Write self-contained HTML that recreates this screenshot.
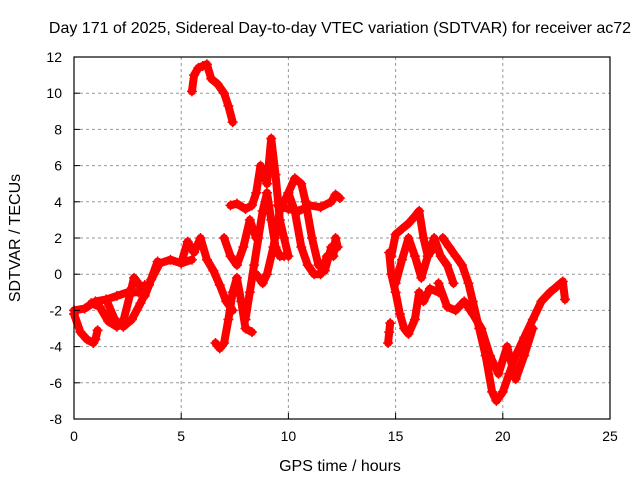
<!DOCTYPE html>
<html><head><meta charset="utf-8"><style>
body{margin:0;background:#fff}
svg text{font-family:"Liberation Sans",sans-serif;font-size:14px;fill:#000}
svg text.big{font-size:16px}
</style></head><body>
<svg id="chart" width="640" height="480" viewBox="0 0 640 480" xmlns="http://www.w3.org/2000/svg">
<rect width="640" height="480" fill="#fff"/>
<text class="big" x="340" y="33" text-anchor="middle">Day 171 of 2025, Sidereal Day-to-day VTEC variation (SDTVAR) for receiver ac72</text>
<g id="grid"></g>
<g id="series"></g>
<rect x="74" y="57" width="536" height="362" fill="none" stroke="#000" stroke-width="1.2"/>
<g id="ticks"></g>
<text class="big" x="340" y="471" text-anchor="middle">GPS time / hours</text>
<text class="big" transform="translate(20,238) rotate(-90)" text-anchor="middle">SDTVAR / TECUs</text>
</svg>
<script>
const xTicks=[0,5,10,15,20,25];
const yTicks=[-8,-6,-4,-2,0,2,4,6,8,10,12];
const h1=[0,0.3,0.6,0.9,1.0,1.1], v1=[-2.2,-3.2,-3.6,-3.8,-3.6,-3.1];
const h2=[0,0.5,1.0,1.5,2.0,2.5,3.0,3.3], v2=[-2.0,-1.9,-1.5,-1.4,-1.2,-1.0,-1.0,-0.6];
const h3=[0.8,1.2,1.6,2.0,2.3,2.6,2.8,3.0,3.3,3.6,4.0,4.5,5.0,5.5], v3=[-1.6,-1.8,-2.6,-2.9,-2.6,-1.2,-0.2,-0.5,-1.2,-0.3,0.6,0.8,0.6,0.8];
const h4=[1.5,1.9,2.3,2.7,3.1,3.5,3.9], v4=[-1.4,-2.5,-2.9,-2.5,-1.6,-0.6,0.7];
const h5=[5.5,5.6,5.8,6.0,6.2,6.4,6.7,7.0,7.2,7.4], v5=[10.1,11.0,11.4,11.5,11.6,10.8,10.5,10.0,9.3,8.4];
const h6=[5.0,5.3,5.6,5.9,6.2,6.5,6.8,7.1,7.4], v6=[0.6,1.8,1.2,2.0,0.8,0.2,-0.6,-1.5,-2.0];
const h7=[6.6,6.8,7.0,7.2,7.4,7.6,7.8,8.0,8.3], v7=[-3.8,-4.1,-3.8,-2.5,-1.0,-0.2,-1.5,-3.0,-3.2];
const h8=[7.3,7.6,8.0,8.3,8.5,8.7,9.0,9.2,9.4,9.6,9.8,10.0], v8=[3.8,3.9,3.6,3.8,4.5,6.0,5.0,7.5,5.5,3.0,2.0,1.0];
const h9=[8.0,8.2,8.4,8.6,8.8,9.0,9.2,9.4,9.6,9.8], v9=[-2.5,-1.0,0.5,2.0,3.5,4.5,3.0,1.5,1.0,1.0];
const h10=[8.5,8.8,9.0,9.3,9.6,10.0,10.3,10.6,10.9,11.2,11.5,11.8], v10=[0.0,-0.5,0.0,1.5,3.5,4.5,3.5,1.5,0.5,0.0,0.0,1.0];
const h11=[9.5,10.0,10.5,11.0,11.5,12.0,12.2,12.4], v11=[3.8,3.6,3.5,3.8,3.7,4.0,4.4,4.2];
const h12=[10.0,10.3,10.6,10.8,11.1,11.4,11.7,12.0], v12=[4.5,5.3,5.0,4.0,2.0,0.5,0.2,1.5];
const h13=[12.1,12.2,12.3], v13=[1.0,2.0,1.5];
const h14=[7.0,7.3,7.6,7.9,8.2,8.5], v14=[2.0,1.0,0.5,1.5,3.0,2.0];
const h15=[14.7,14.8,15.0,15.2,15.4,15.6,15.9,16.1,16.3,16.6,17.0], v15=[1.2,0.0,-1.0,-2.2,-3.0,-3.3,-2.5,-1.0,-1.5,-0.8,-1.0];
const h16=[14.8,15.0,15.3,15.6,15.9,16.1,16.3,16.5,16.8], v16=[1.0,2.2,2.5,2.8,3.2,3.5,2.0,1.0,1.5];
const h17=[15.0,15.3,15.6,15.9,16.2,16.5,16.8,17.1,17.4,17.7], v17=[-0.5,0.8,2.0,1.0,-0.2,1.0,2.0,1.0,0.5,-0.5];
const h18=[17.2,17.5,17.8,18.1,18.4,18.6,18.9,19.2,19.5,19.7,20.0,20.3,20.6,21.0,21.4,21.8,22.2,22.5,22.8,22.9], v18=[2.0,1.5,1.0,0.5,-0.5,-1.5,-3.0,-4.5,-6.5,-7.0,-6.5,-5.5,-4.5,-3.5,-2.5,-1.5,-1.0,-0.7,-0.4,-1.4];
const h19=[17.0,17.4,17.8,18.2,18.6,19.0,19.4,19.8,20.2,20.6,21.0,21.4], v19=[-0.5,-1.8,-2.0,-1.5,-2.2,-3.0,-4.5,-5.5,-4.0,-5.8,-4.5,-3.0];
const h20=[14.65,14.7,14.75], v20=[-3.8,-3.2,-2.7];
const seriesH=[h1,h2,h3,h4,h5,h6,h7,h8,h9,h10,h11,h12,h13,h14,h15,h16,h17,h18,h19,h20];
const seriesV=[v1,v2,v3,v4,v5,v6,v7,v8,v9,v10,v11,v12,v13,v14,v15,v16,v17,v18,v19,v20];

const X0=74,X1=610,Y0=419,Y1=57;
const sx=h=>X0+(h-0)/(25-0)*(X1-X0);
const sy=v=>Y0-(v+8)/(12+8)*(Y0-Y1);
const NS='http://www.w3.org/2000/svg';
const grid=document.getElementById('grid'),ticks=document.getElementById('ticks'),ser=document.getElementById('series');
function mk(tag,attrs,parent){const e=document.createElementNS(NS,tag);for(const k in attrs)e.setAttribute(k,attrs[k]);parent.appendChild(e);return e;}
xTicks.forEach(t=>{const x=sx(t);
 if(t>0&&t<25){const g=mk('line',{x1:x,x2:x,y1:Y1,y2:Y0,stroke:'#999','stroke-dasharray':'3,3'},grid);
 
 }
 const tk=mk('line',{x1:x,x2:x,y1:Y0,y2:Y0-6,stroke:'#000'},ticks);
 
 
 const lb=mk('text',{x:x,y:Y0+22,'text-anchor':'middle'},ticks);lb.textContent=t;
 
 
});
yTicks.forEach(t=>{const y=sy(t);
 if(t>-8&&t<12){const g=mk('line',{x1:X0,x2:X1,y1:y,y2:y,stroke:'#999','stroke-dasharray':'3,3'},grid);
 
 }
 const tk=mk('line',{x1:X0,x2:X0+6,y1:y,y2:y,stroke:'#000'},ticks);
 
 
 const lb=mk('text',{x:X0-12,y:y+5,'text-anchor':'end'},ticks);lb.textContent=t;
 
 
});
seriesH.forEach((hs,i)=>{const vs=seriesV[i];
 const pts=hs.map((h,j)=>sx(h).toFixed(1)+','+sy(vs[j]).toFixed(1)).join(' ');
 const pl=mk('polyline',{points:pts,fill:'none',stroke:'#f00','stroke-width':8,'stroke-linejoin':'round','stroke-linecap':'round'},ser);
 
 
 hs.forEach((h,j)=>{const x=sx(h),y=sy(vs[j]);
  const p=mk('path',{d:`M${x-5},${y}H${x+5}M${x},${y-5}V${y+5}`,stroke:'#f00','stroke-width':1.5},ser);
  
  
 });
});
</script>
</body></html>
